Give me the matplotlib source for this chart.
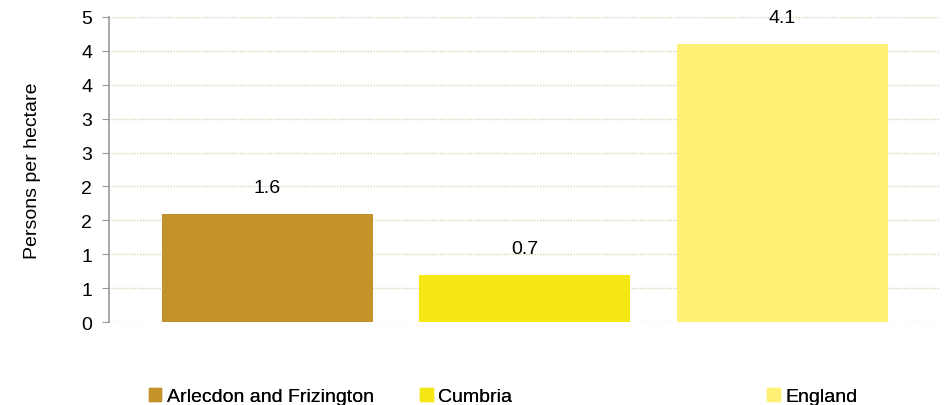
import numpy as np
import matplotlib.pyplot as plt
from matplotlib.patches import Patch
from matplotlib.ticker import FuncFormatter, MultipleLocator

plt.rcParams['font.family'] = ['Liberation Sans', 'DejaVu Sans']

# Datos
areas = ['Arlecdon and Frizington', 'Cumbria', 'England']
density = [1.6, 0.7, 4.1]
colors = ['#C4922A', '#F4E714', '#FFF176']

fs = 14

fig = plt.figure(figsize=(9.46, 4.06), dpi=100)
ax = fig.add_axes([0.1152, 0.2044, 0.8785, 0.7513])

x = np.arange(len(areas))
bars = ax.bar(x, density, width=0.82, color=colors, zorder=2)

for b, v in zip(bars, density):
    ax.annotate(f'{v:.1f}', (b.get_x() + b.get_width() / 2, v),
                xytext=(0, 13), textcoords='offset points',
                ha='center', va='bottom', fontsize=fs)

ax.set_xlim(-0.614, 2.612)
ax.set_ylim(0, 4.5)
ax.yaxis.set_major_locator(MultipleLocator(0.5))
# etiquetas redondeadas como en Excel (0.5 -> 1)
ax.yaxis.set_major_formatter(FuncFormatter(lambda v, p: f'{int(np.floor(v + 0.5 + 1e-9))}'))
ax.set_ylabel('Persons per hectare', fontsize=fs, labelpad=29)

ax.grid(axis='y', color='#D9D2B8', linestyle=(0, (1, 1)), linewidth=1, zorder=0)
for s in ['top', 'right', 'bottom']:
    ax.spines[s].set_visible(False)
ax.spines['left'].set_color('#999999')
ax.spines['left'].set_linewidth(1.2)
ax.tick_params(axis='y', length=5, color='#999999', labelsize=fs, pad=7)
ax.tick_params(axis='x', length=0, labelbottom=False)

# Leyenda: tres entradas sueltas
leg_x = [0.157, 0.444, 0.811]
for name, c, lx in zip(areas, colors, leg_x):
    leg = fig.legend(handles=[Patch(color=c, label=name)], loc='center left',
                     bbox_to_anchor=(lx, 0.021), frameon=False, fontsize=fs,
                     handlelength=0.65, handleheight=0.65, handletextpad=0.3,
                     borderaxespad=0, borderpad=0)
    fig.add_artist(leg)

fig.savefig('out.png', dpi=100)
